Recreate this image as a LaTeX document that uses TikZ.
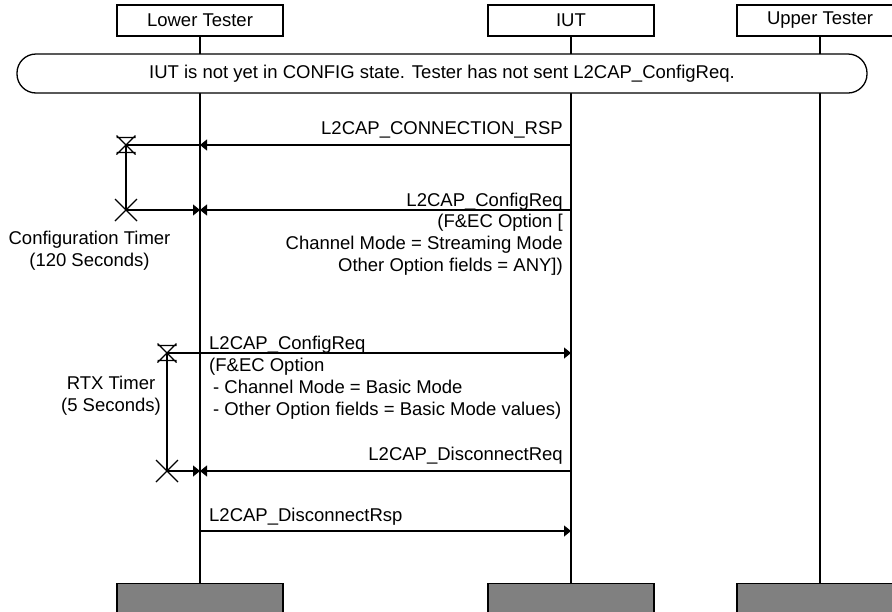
\documentclass[tikz,border=0pt]{standalone}
\usepackage{fontspec}
\setmainfont{Liberation Sans}
\usetikzlibrary{arrows.meta,positioning}
\definecolor{gris}{RGB}{128,128,128}

\tikzset{
  acteur/.style={draw, line width=1.3pt, fill=white, minimum width=166pt, minimum height=31pt, inner sep=0pt},
  fin/.style={draw, line width=1.3pt, fill=gris, minimum width=166pt, minimum height=40pt, anchor=north},
  vie/.style={line width=1.8pt},
  msg/.style={line width=1.2pt, -{Triangle[length=7pt,width=11pt]}},
  trait/.style={line width=1.2pt},
  etiq/.style={inner sep=0pt},
  sablier/.pic={\draw[line width=1.1pt] (-9.5,-9.5) -- (9.5,9.5) (-9.5,9.5) -- (9.5,-9.5) (-9.5,-7.5) -- (9.5,-7.5) (-9.5,7.5) -- (9.5,7.5);},
  croix/.pic={\draw[line width=1.1pt] (-11,-11) -- (11,11) (-11,11) -- (11,-11);}
}

\begin{document}
\begin{tikzpicture}[x=1pt, y=-1pt, font=\fontsize{18.5}{22}\selectfont]
        \useasboundingbox (0,0) rectangle (892,611);

        % Les trois participants en haut, et leurs boîtes grises en bas :
        \node[acteur] (lt) at (200,20.5) {Lower Tester};
        \node[acteur] (iut) at (571,20.5) {IUT};
        \node[acteur] (ut) at (820,20.5) {Upper Tester};
        \node[fin] (ltbas) at (200,583) {};
        \node[fin] (iutbas) at (571,583) {};
        \node[fin] (utbas) at (820,583) {};

        % Les lignes de vie :
        \draw[vie] (lt) -- (ltbas);
        \draw[vie] (iut) -- (iutbas);
        \draw[vie] (ut) -- (utbas);

        % L'état de départ, qui recouvre les lignes de vie :
        \node[draw, line width=1.3pt, fill=white, rounded corners=19pt, minimum width=850pt, minimum height=39pt] (etat) at (442,73.5)
          {IUT is not yet in CONFIG state. Tester has not sent L2CAP\_ConfigReq.};

        % Les hauteurs des messages et les bouts des minuteries :
        \coordinate (m1) at (0,145);
        \coordinate (m2) at (0,210);
        \coordinate (m3) at (0,353);
        \coordinate (m4) at (0,471);
        \coordinate (m5) at (0,531);
        \coordinate (cfgdebut) at (126,145);
        \coordinate (cfgfin) at (126,210);
        \coordinate (rtxdebut) at (167,353);
        \coordinate (rtxfin) at (167,471);

        % Les messages :
        \draw[msg] (iut |- m1) -- (lt |- m1);
        \draw[trait] (lt |- m1) -- (cfgdebut);
        \draw[msg] (iut |- m2) -- (lt |- m2);
        \draw[msg] (cfgfin) -- (lt |- m2);
        \draw[msg] (rtxdebut) -- (iut |- m3);
        \draw[msg] (iut |- m4) -- (lt |- m4);
        \draw[msg] (rtxfin) -- (lt |- m4);
        \draw[msg] (lt |- m5) -- (iut |- m5);

        % Les minuteries : sablier au départ, croix à l'échéance.
        \draw[trait] (cfgdebut) -- (cfgfin);
        \draw[trait] (rtxdebut) -- (rtxfin);
        \pic at (cfgdebut) {sablier};
        \pic at (cfgfin) {croix};
        \pic at (rtxdebut) {sablier};
        \pic at (rtxfin) {croix};

        % Les textes des messages :
        \node[etiq, anchor=base east] (t1) at (563,134) {L2CAP\_CONNECTION\_RSP};
        \node[etiq, anchor=base east] (t2) at (563,206) {L2CAP\_ConfigReq};
        \node[etiq, anchor=north east, align=right] (t2b) at (563,214)
          {(F\&EC Option [\\Channel Mode = Streaming Mode\\Other Option fields = ANY])};
        \node[etiq, anchor=base west] (t3) at (209,349) {L2CAP\_ConfigReq};
        \node[etiq, anchor=north west, align=left] (t3b) at (209,358)
          {(F\&EC Option\\\hspace*{4pt}- Channel Mode = Basic Mode\\\hspace*{4pt}- Other Option fields = Basic Mode values)};
        \node[etiq, anchor=base east] (t4) at (563,460) {L2CAP\_DisconnectReq};
        \node[etiq, anchor=base west] (t5) at (209,521) {L2CAP\_DisconnectRsp};

        % Les noms des minuteries :
        \node[etiq, anchor=north, align=center] (cfgnom) at (89.5,231) {Configuration Timer\\(120 Seconds)};
        \node[etiq, anchor=north, align=center] (rtxnom) at (111,376) {RTX Timer\\(5 Seconds)};
\end{tikzpicture}
\end{document}
